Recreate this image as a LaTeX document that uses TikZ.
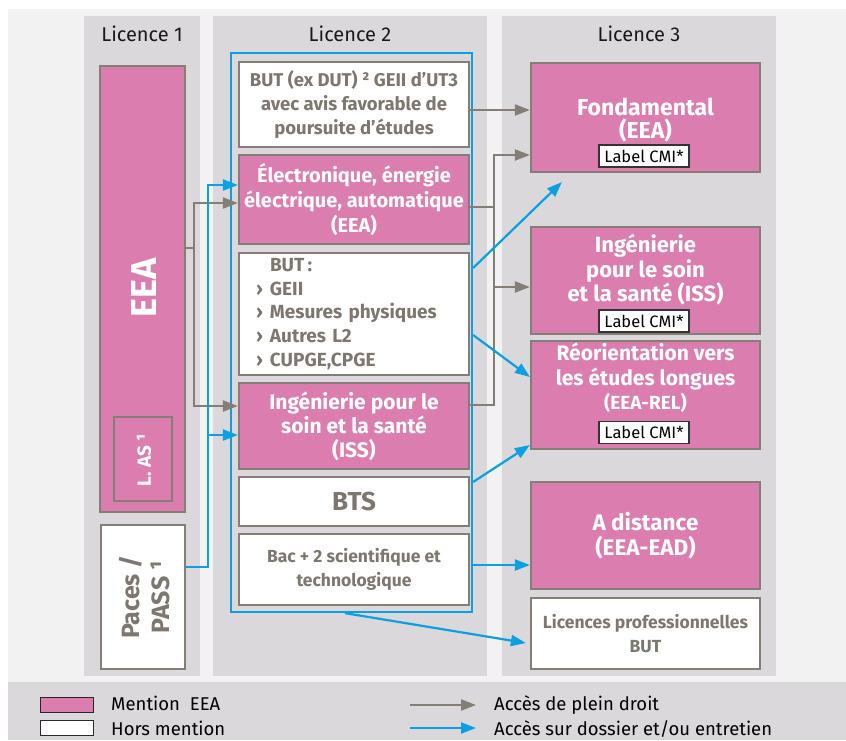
\documentclass[tikz,border=0pt]{standalone}
\usepackage{fontspec}
\setmainfont{Fira Sans}
\usetikzlibrary{arrows.meta}
\newcommand{\butitem}[1]{\makebox[14pt][l]{›}#1}
\begin{document}
\begin{tikzpicture}[x=1pt,y=-1pt,
  box/.style={draw=fborder,line width=2.2pt,inner sep=0pt,align=center,minimum width=230pt},
  mention/.style={box,fill=fpink,text=white},
  hors/.style={box,fill=white,text=ftext},
  cmi/.style={draw=black!80,line width=1.2pt,fill=white,text=black,inner sep=0pt,
    minimum width=90pt,minimum height=22pt,font=\fontsize{16.5}{18}\selectfont},
  plein/.style={draw=fborder,line width=2.2pt,-{Triangle[length=15pt,width=11pt]}},
  dossier/.style={draw=fblue,line width=2.2pt,-{Triangle[length=15pt,width=11pt]}}]
  \definecolor{fborder}{HTML}{847E76}
  \definecolor{ftext}{HTML}{7D776F}
  \definecolor{fpink}{HTML}{DC7DB0}
  \definecolor{fblue}{HTML}{0AA0E2}
  \definecolor{fcol}{HTML}{DAD8DB}
  \definecolor{fbg}{HTML}{F2F2F2}
  \path[use as bounding box] (0,0) rectangle (846,740);
  \fill[white] (0,0) rectangle (846,740);
  \fill[fbg] (8,9) rectangle (846,682);
  \fill[fcol] (8,682) rectangle (846,740);
  \foreach \xa/\xb/\n in {84/200/1, 213/487/2, 502/776/3}{
    \fill[fcol] (\xa,16) rectangle (\xb,676);
    \node[text=black!90,font=\fontsize{20}{24}\selectfont] (head\n) at ({(\xa+\xb)/2},34) {Licence \n};
  }

  \node[mention,minimum width=85pt,minimum height=446pt] (eeaL1) at (142.5,289) {};
  \node[rotate=90,text=white,font=\bfseries\fontsize{36}{40}\selectfont] (eeaTxt) at (144,288) {EEA};
  \node[mention,minimum width=58pt,minimum height=84pt] (lasL1) at (143,459) {};
  \node[rotate=90,text=white,font=\bfseries\fontsize{19}{22}\selectfont] (lasTxt) at (144,460) {L. AS ¹};
  \node[hors,minimum width=84pt,minimum height=144pt] (pacesL1) at (143,597) {};
  \node[rotate=90,text=ftext,align=center,font=\bfseries\fontsize{25}{30}\selectfont] (pacesTxt) at (145,597) {Paces /\\PASS ¹};

  \node[draw=fblue,line width=2.2pt,inner sep=0pt,minimum width=241pt,minimum height=559pt] (frame) at (351.5,332.5) {};
  \node[hors,minimum height=85pt,font=\bfseries\fontsize{18.5}{24}\selectfont] (butdut) at (354,104.5)
    {BUT (ex DUT) ² GEII d’UT3\\avec avis favorable de\\poursuite d’études};
  \node[mention,minimum height=89pt,font=\bfseries\fontsize{20}{25}\selectfont] (eeaL2) at (354,199.5)
    {Électronique, énergie\\électrique, automatique\\(EEA)};
  \node[hors,minimum height=122pt,align=left,text width=196pt,font=\bfseries\fontsize{19}{23.75}\selectfont] (butlist) at (354,314)
    {\hspace*{14pt}BUT\,:\\\butitem{GEII}\\\butitem{Mesures physiques}\\\butitem{Autres L2}\\\butitem{CUPGE,CPGE}};
  \node[mention,minimum height=86pt,font=\bfseries\fontsize{21}{24}\selectfont] (issL2) at (354,426)
    {Ingénierie pour le\\soin et la santé\\(ISS)};
  \node[hors,minimum height=49pt,font=\bfseries\fontsize{26}{28}\selectfont] (bts) at (354,501.5) {BTS};
  \node[hors,minimum height=71pt,font=\bfseries\fontsize{17.5}{24}\selectfont] (bac) at (354,569.5)
    {Bac + 2 scientifique et\\technologique};

  \node[mention,minimum width=229pt,minimum height=109pt] (fond) at (645.5,117.5) {};
  \node[text=white,align=center,font=\bfseries\fontsize{23}{23}\selectfont] (fondTxt) at (645.5,120) {Fondamental\\(EEA)};
  \node[mention,minimum width=229pt,minimum height=107pt] (issL3) at (645.5,280.5) {};
  \node[text=white,align=center,font=\bfseries\fontsize{22}{24.5}\selectfont] (issTxt) at (645.5,270) {Ingénierie\\pour le soin\\et la santé (ISS)};
  \node[mention,minimum width=229pt,minimum height=108pt] (reo) at (645.5,395) {};
  \node[text=white,align=center,font=\bfseries\fontsize{21}{24.5}\selectfont] (reoTxt) at (645.5,378) {Réorientation vers\\les études longues\\{\fontsize{19}{24.5}\selectfont(EEA-REL)}};
  \node[mention,minimum width=229pt,minimum height=107pt,font=\bfseries\fontsize{22.5}{25}\selectfont] (dist) at (645.5,535.5)
    {A distance\\(EEA-EAD)};
  \node[hors,minimum width=229pt,minimum height=71pt,font=\bfseries\fontsize{17.5}{24}\selectfont] (lpro) at (645.5,633.5)
    {Licences professionnelles\\BUT};
  \foreach \n/\y in {Fond/156, Iss/321, Reo/432.5}{
    \node[cmi] (cmi\n) at (644,\y) {Label CMI*};
  }

  \coordinate (fondA) at ([yshift=7.5pt]fond.west);
  \coordinate (fondB) at ([yshift=-37.5pt]fond.west);
  \coordinate (issA) at ([yshift=-6.5pt]issL3.west);
  \coordinate (eeaB) at ([yshift=-3.5pt]eeaL2.west);
  \coordinate (issB) at ([yshift=20pt]issL2.west);
  \coordinate (eeaC) at ([yshift=14.5pt]eeaL2.west);
  \coordinate (issC) at ([yshift=-9pt]issL2.west);
  \coordinate (fondC) at ([xshift=32pt,yshift=-9pt]fond.south west);
  \coordinate (distA) at ([yshift=-29.5pt]dist.west);
  \draw[plein] (butdut.east |- fondA) -- (fondA);
  \draw[plein] ([yshift=21pt]issL2.east) -- ++(24pt,0) |- (fondB);
  \draw[plein] ([yshift=-7.5pt]eeaL2.east) -- ++(24pt,0) |- (issA);
  \draw[plein] ([yshift=41pt]eeaL1.east) -- ++(8pt,0) |- (eeaB);
  \draw[plein] ([yshift=41pt]eeaL1.east) -- ++(8pt,0) |- (issB);
  \draw[dossier] ([yshift=30pt]pacesL1.east) -- ++(22pt,0) |- (eeaC);
  \draw[dossier] ([yshift=30pt]pacesL1.east) -- ++(22pt,0) |- (issC);
  \draw[dossier] ([yshift=64.5pt]frame.east) -- (fondC);
  \draw[dossier] ([yshift=-2.5pt]frame.east) -- ([yshift=18pt]reo.west);
  \draw[dossier] ([yshift=-149.5pt]frame.east) -- ([yshift=-50pt]reo.west);
  \draw[dossier] (frame.east |- distA) -- (distA);
  \draw[dossier] ([xshift=-6.5pt]frame.south) -- ([xshift=-4pt,yshift=-9.5pt]lpro.west);

  \node[fill=fpink,draw=black!85,line width=1pt,inner sep=0pt,minimum width=53pt,minimum height=15pt] (legPink) at (66.5,704.5) {};
  \node[fill=white,draw=black!85,line width=1pt,inner sep=0pt,minimum width=53pt,minimum height=15pt] (legWhite) at (66.5,728) {};
  \node[anchor=base west,inner sep=0pt,font=\fontsize{18.5}{20}\selectfont] (legPinkTxt) at (111,710) {Mention\ \ EEA};
  \node[anchor=base west,inner sep=0pt,font=\fontsize{18.5}{20}\selectfont] (legWhiteTxt) at (111,735.5) {Hors mention};
  \coordinate (legA1) at (410,705);
  \coordinate (legA2) at (476,705);
  \coordinate (legB1) at (410,728);
  \coordinate (legB2) at (476,728);
  \draw[plein] (legA1) -- (legA2);
  \draw[dossier] (legB1) -- (legB2);
  \node[anchor=base west,inner sep=0pt,font=\fontsize{18.5}{20}\selectfont] (legPleinTxt) at (494,710) {Accès de plein droit};
  \node[anchor=base west,inner sep=0pt,font=\fontsize{18.5}{20}\selectfont] (legDossierTxt) at (494,735.5) {Accès sur dossier et/ou entretien};
\end{tikzpicture}
\end{document}
